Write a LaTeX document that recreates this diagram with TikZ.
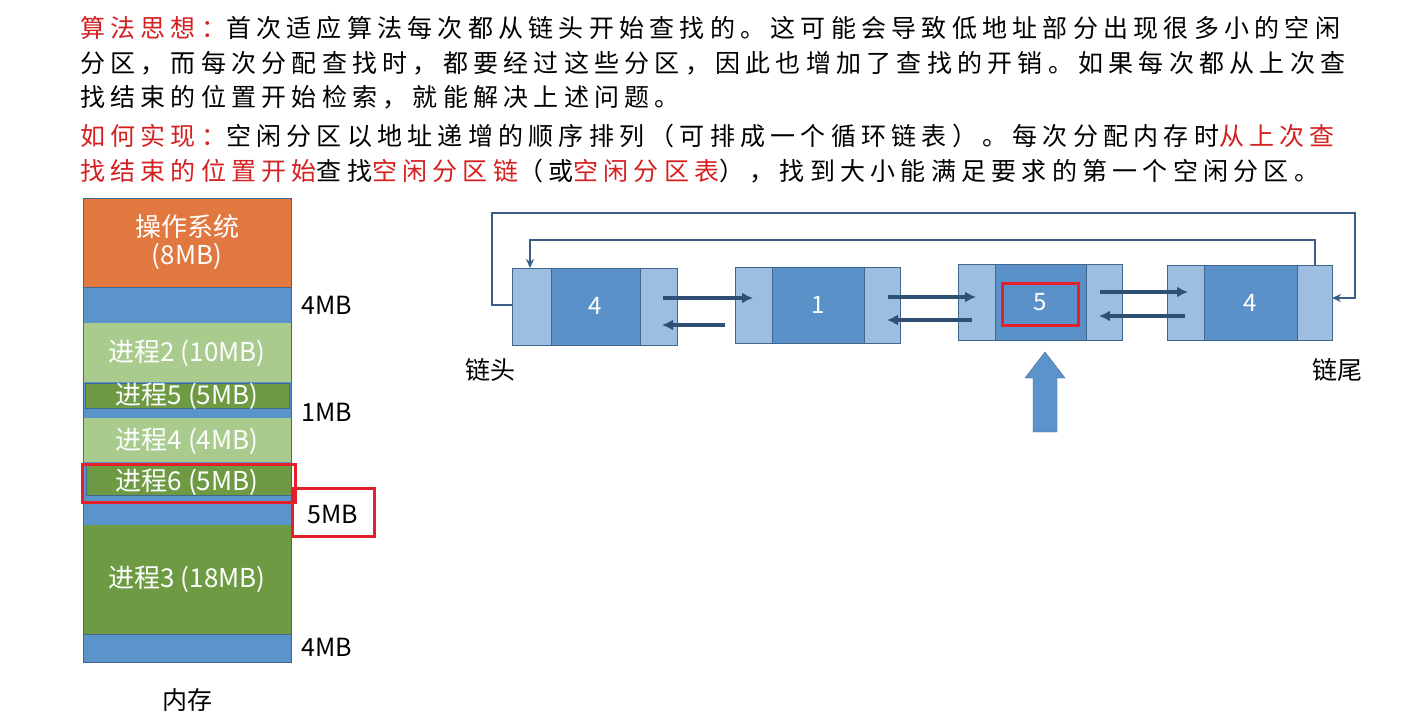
\documentclass[tikz,border=0pt]{standalone}
\usepackage{fontspec}
\setmainfont{Noto Sans CJK SC}
\newfontfamily\cjk{Noto Sans CJK SC}
\newfontfamily\cjksp[LetterSpace=21]{Noto Sans CJK SC}
\definecolor{osor}{HTML}{E07840}
\definecolor{fblue}{HTML}{5B93CB}
\definecolor{lgreen}{HTML}{A9CB8E}
\definecolor{dgreen}{HTML}{6E9A44}
\definecolor{lnode}{HTML}{9DBEE0}
\definecolor{dnode}{HTML}{5A91C8}
\definecolor{arr}{HTML}{2F4F75}
\definecolor{hred}{HTML}{E5202A}
\definecolor{tred}{HTML}{D42020}
\begin{document}
\begin{tikzpicture}[x=1pt,y=-1pt,
  mt/.style={text=white,font=\cjk\fontsize{26}{26}\selectfont},
  lab/.style={font=\cjk\fontsize{25}{25}\selectfont},
  ln/.style={anchor=base west,inner sep=0pt,font=\cjksp\fontsize{25}{25}\selectfont},
  lk/.style={draw=arr,line width=3.6pt,-{Latex[length=11pt,width=11pt]}},
  lp/.style={draw=arr!80!fblue,line width=1.8pt},
  side/.style={fill=lnode,draw=fblue!70!black,line width=0.8pt},
  mid/.style={fill=dnode,draw=fblue!70!black,line width=0.8pt},
  nt/.style={text=white,font=\cjk\fontsize{24}{24}\selectfont},
  hl/.style={draw=hred,line width=3pt}]
\usetikzlibrary{arrows.meta}
\useasboundingbox (0,0) rectangle (1407,719);
% text
\node[ln] (l1) at (80,38) {\textcolor{tred}{算法思想：}首次适应算法每次都从链头开始查找的。这可能会导致低地址部分出现很多小的空闲};
\node[ln] (l2) at (80,73) {分区，而每次分配查找时，都要经过这些分区，因此也增加了查找的开销。如果每次都从上次查};
\node[ln] (l3) at (80,107) {找结束的位置开始检索，就能解决上述问题。};
\node[ln] (l4) at (80,146) {\textcolor{tred}{如何实现：}空闲分区以地址递增的顺序排列（可排成一个循环链表）。每次分配内存时\textcolor{tred}{从上次查}};
\node[ln] (l5) at (80,181) {\textcolor{tred}{找结束的位置开始}查找\textcolor{tred}{空闲分区链}（或\textcolor{tred}{空闲分区表}），找到大小能满足要求的第一个空闲分区。};
% memory
\fill[osor,draw=osor!80!black] (83,198) rectangle (291,287);
\node[mt,align=center] (os) at (187,242) {操作系统\\[2pt](8MB)};
\fill[fblue,draw=fblue!70!black] (83,287) rectangle (291,323);
\fill[lgreen] (83,323) rectangle (291,382);
\node[mt] (p2) at (187,353) {进程2 (10MB)};
\fill[fblue] (83,382) rectangle (291,418);
\fill[dgreen,draw=fblue!70!black] (85,383) rectangle (289,408);
\node[mt] (p5) at (187,396) {进程5 (5MB)};
\fill[lgreen] (83,418) rectangle (291,462);
\node[mt] (p4) at (187,441) {进程4 (4MB)};
\fill[fblue] (83,462) rectangle (291,525);
\fill[dgreen,draw=fblue!70!black] (86,465) rectangle (291,495);
\node[mt] (p6) at (187,482) {进程6 (5MB)};
\fill[dgreen] (83,525) rectangle (291,634);
\node[mt] (p3) at (187,579) {进程3 (18MB)};
\fill[fblue,draw=fblue!70!black] (83,634) rectangle (291,662);
\draw[fblue!70!black] (83,198) rectangle (291,662);
\draw[hl] (82,464) rectangle (295,502);
\draw[hl] (292,488) rectangle (374,536);
\node[lab] (m1) at (327,305) {4MB};
\node[lab] (m2) at (327,412) {1MB};
\node[lab] (m3) at (333,514) {5MB};
\node[lab] (m4) at (327,647) {4MB};
\node[lab] (nc) at (187,700) {内存};
% list nodes
\draw[side] (512,268) rectangle (551,345); \draw[mid] (551,268) rectangle (640,345); \draw[side] (640,268) rectangle (677,345);
\node[nt] (n1) at (595,306) {4};
\draw[side] (735,267) rectangle (772,343); \draw[mid] (772,267) rectangle (864,343); \draw[side] (864,267) rectangle (900,343);
\node[nt] (n2) at (818,305) {1};
\draw[side] (958,264) rectangle (995,340); \draw[mid] (995,264) rectangle (1086,340); \draw[side] (1086,264) rectangle (1122,340);
\node[nt] (n3) at (1040,302) {5};
\draw[hl] (1002,283) rectangle (1078,325);
\draw[side] (1167,265) rectangle (1204,340); \draw[mid] (1204,265) rectangle (1297,340); \draw[side] (1297,265) rectangle (1332,340);
\node[nt] (n4) at (1250,303) {4};
\coordinate (a1) at (663,298); \coordinate (b1) at (753,298);
\coordinate (a2) at (725,325); \coordinate (b2) at (662,325);
\draw[lk] (a1) -- (b1); \draw[lk] (a2) -- (b2);
\coordinate (a3) at (888,297); \coordinate (b3) at (976,297);
\coordinate (a4) at (972,320); \coordinate (b4) at (887,320);
\draw[lk] (a3) -- (b3); \draw[lk] (a4) -- (b4);
\coordinate (a5) at (1100,292); \coordinate (b5) at (1188,292);
\coordinate (a6) at (1185,316); \coordinate (b6) at (1099,316);
\draw[lk] (a5) -- (b5); \draw[lk] (a6) -- (b6);
\coordinate (o1) at (512,305); \coordinate (o2) at (1332,298);
\draw[lp,-{Stealth[length=9pt,width=8pt]}] (o1) -- (492,305) -- (492,213) -- (1355,213) -- (1355,298) -- (o2);
\coordinate (i1) at (1315,265); \coordinate (i2) at (530,268);
\draw[lp,-{Stealth[length=9pt,width=8pt]}] (i1) -- (1315,240) -- (530,240) -- (i2);
\node[lab] (head) at (490,370) {链头};
\node[lab] (tail) at (1337,370) {链尾};
\fill[fblue,draw=fblue!70!black] (1033,432) -- (1033,378) -- (1025,378) -- (1045,352) -- (1065,378) -- (1057,378) -- (1057,432) -- cycle;
\end{tikzpicture}
\end{document}
